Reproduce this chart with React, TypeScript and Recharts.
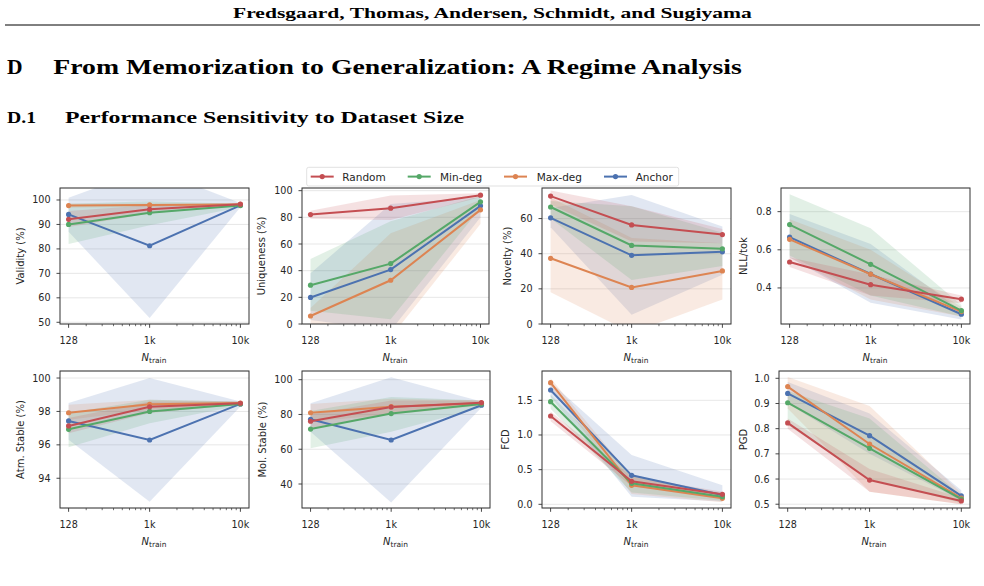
import React from 'react';
import { ComposedChart, Line, Area, XAxis, YAxis, CartesianGrid } from 'recharts';

// ---------- data ----------
const nTrain = [128, 1000, 10000];
const seriesNames = ['Random', 'Min-deg', 'Max-deg', 'Anchor'];
const seriesColors = ['#c44e52', '#55a868', '#dd8452', '#4c72b0'];
const xMajorTicks = [128, 1000, 10000];
const xMajorLabels = ['128', '1k', '10k'];
const xMinorTicks = [200, 300, 400, 500, 600, 700, 800, 900, 2000, 3000, 4000, 5000, 6000, 7000, 8000, 9000];

// rows: Random, Min-deg, Max-deg, Anchor ; columns: 128, 1k, 10k
const validityMean = [[92.1, 96.2, 98.3], [90.0, 94.8, 97.7], [97.7, 98.0, 98.2], [94.1, 81.3, 97.8]];
const validityLow = [[89.0, 94.5, 97.8], [82.0, 89.7, 97.0], [96.8, 97.2, 97.8], [87.0, 51.8, 97.0]];
const validityHigh = [[95.5, 97.8, 98.8], [98.5, 99.5, 98.5], [98.6, 98.6, 98.6], [100.9, 113.0, 98.8]];
const validityTicks = [50, 60, 70, 80, 90, 100];

const uniquenessMean = [[82.1, 86.9, 96.6], [29.1, 45.3, 91.6], [6.0, 32.8, 85.6], [19.9, 40.8, 88.6]];
const uniquenessLow = [[79, 78, 95], [10, 3.5, 87], [0, -10, 75], [3, -5, 80]];
const uniquenessHigh = [[85, 96.3, 98], [48.8, 77, 96], [12, 68, 93], [38, 90, 95]];
const uniquenessTicks = [0, 20, 40, 60, 80, 100];

const noveltyMean = [[72.8, 56.4, 50.9], [66.6, 44.7, 42.8], [37.4, 20.8, 30.2], [60.4, 39.1, 41.1]];
const noveltyLow = [[68, 47, 46], [60, 25, 33], [18, -5, 14], [55, 5.3, 28]];
const noveltyHigh = [[76, 67, 54], [70, 67, 52], [72, 49, 46], [66, 73.4, 55.5]];
const noveltyTicks = [0, 20, 40, 60];

const nllMean = [[0.536, 0.417, 0.341], [0.732, 0.524, 0.281], [0.655, 0.472, 0.276], [0.666, 0.473, 0.262]];
const nllLow = [[0.51, 0.36, 0.32], [0.57, 0.36, 0.25], [0.56, 0.34, 0.25], [0.56, 0.323, 0.235]];
const nllHigh = [[0.56, 0.47, 0.36], [0.891, 0.713, 0.31], [0.76, 0.6, 0.3], [0.788, 0.63, 0.28]];
const nllTicks = [0.4, 0.6, 0.8];

const atmMean = [[97.13, 98.28, 98.49], [96.93, 98.0, 98.45], [97.92, 98.43, 98.5], [97.43, 96.29, 98.45]];
const atmLow = [[96.7, 97.9, 98.4], [95.85, 97.3, 98.35], [97.5, 98.1, 98.4], [96.3, 92.6, 98.3]];
const atmHigh = [[97.6, 98.6, 98.6], [97.9, 98.7, 98.6], [98.4, 98.7, 98.6], [98.5, 100.0, 98.6]];
const atmTicks = [94, 96, 98, 100];

const molMean = [[76.1, 84.3, 86.8], [71.6, 80.5, 86.0], [81.0, 84.5, 86.5], [77.2, 65.3, 85.3]];
const molLow = [[72, 80.5, 85.5], [60.5, 70, 84], [76, 80, 85], [70, 29.3, 84]];
const molHigh = [[80, 88, 88], [82, 90, 88], [86, 89, 88], [86.4, 101.4, 87.5]];
const molTicks = [40, 60, 80, 100];

const fcdMean = [[1.274, 0.332, 0.144], [1.48, 0.303, 0.11], [1.755, 0.274, 0.087], [1.649, 0.418, 0.134]];
const fcdLow = [[1.2, 0.26, 0.1], [1.38, 0.17, 0.05], [1.69, 0.15, 0.03], [1.55, 0.11, 0.04]];
const fcdHigh = [[1.34, 0.4, 0.18], [1.58, 0.42, 0.16], [1.82, 0.4, 0.13], [1.76, 0.711, 0.274]];
const fcdTicks = [0, 0.5, 1.0, 1.5];

const pgdMean = [[0.823, 0.596, 0.513], [0.903, 0.722, 0.52], [0.967, 0.739, 0.524], [0.94, 0.772, 0.533]];
const pgdLow = [[0.8, 0.55, 0.5], [0.815, 0.6, 0.505], [0.88, 0.55, 0.5], [0.9, 0.7, 0.515]];
const pgdHigh = [[0.84, 0.64, 0.525], [0.95, 0.84, 0.535], [1.005, 0.89, 0.545], [0.985, 0.86, 0.555]];
const pgdTicks = [0.5, 0.6, 0.7, 0.8, 0.9, 1.0];

// ---------- layout ----------
const FONT = 'DejaVu Sans, sans-serif';
const TXT = '#262626';
const X_DOMAIN: [number, number] = [102.9, 12440];
const DRAW_ORDER = [3, 2, 1, 0];

type Panel = {
  label: string; mean: number[][]; low: number[][]; high: number[][];
  ticks: number[]; dec: number; domain: [number, number];
  left: number; top: number; w: number; h: number; labelX: number;
};

const panels: Panel[] = [
  { label: 'Validity (%)', mean: validityMean, low: validityLow, high: validityHigh, ticks: validityTicks, dec: 0, domain: [49.3, 104.9], left: 60, top: 188, w: 189, h: 136, labelX: 20 },
  { label: 'Uniqueness (%)', mean: uniquenessMean, low: uniquenessLow, high: uniquenessHigh, ticks: uniquenessTicks, dec: 0, domain: [0, 102], left: 302, top: 188, w: 187, h: 136, labelX: 261 },
  { label: 'Novelty (%)', mean: noveltyMean, low: noveltyLow, high: noveltyHigh, ticks: noveltyTicks, dec: 0, domain: [0, 77.4], left: 542, top: 188, w: 189, h: 136, labelX: 507 },
  { label: 'NLL/tok', mean: nllMean, low: nllLow, high: nllHigh, ticks: nllTicks, dec: 1, domain: [0.211, 0.924], left: 781, top: 188, w: 189, h: 136, labelX: 743 },
  { label: 'Atm. Stable (%)', mean: atmMean, low: atmLow, high: atmHigh, ticks: atmTicks, dec: 0, domain: [92.22, 100.42], left: 60, top: 371, w: 189, h: 137, labelX: 20 },
  { label: 'Mol. Stable (%)', mean: molMean, low: molLow, high: molHigh, ticks: molTicks, dec: 0, domain: [26.2, 105], left: 302, top: 371, w: 188, h: 137, labelX: 262 },
  { label: 'FCD', mean: fcdMean, low: fcdLow, high: fcdHigh, ticks: fcdTicks, dec: 1, domain: [-0.053, 1.923], left: 542, top: 371, w: 189, h: 137, labelX: 505 },
  { label: 'PGD', mean: pgdMean, low: pgdLow, high: pgdHigh, ticks: pgdTicks, dec: 1, domain: [0.485, 1.029], left: 779, top: 371, w: 191, h: 137, labelX: 743 },
];

const M_TOP = 10, M_RIGHT = 10, Y_W = 60, X_H = 35;

function buildRows(p: Panel) {
  return nTrain.map((n, i) => {
    const o: any = { n };
    seriesNames.forEach((_, k) => {
      o['m' + k] = p.mean[k][i];
      o['b' + k] = [p.low[k][i], p.high[k][i]];
    });
    return o;
  });
}

function PanelChart({ p }: { p: Panel }) {
  const W = p.w + Y_W + M_RIGHT;
  const H = p.h + M_TOP + X_H;
  const plotLeft = Y_W;
  const plotBottom = M_TOP + p.h;
  const rows = buildRows(p);

  const yTick = (props: any) => {
    const { y, payload } = props;
    return (
      <g>
        <line x1={plotLeft - 3.5} x2={plotLeft} y1={y} y2={y} stroke="#333" strokeWidth={0.9} />
        <text x={plotLeft - 9.5} y={y} textAnchor="end" dominantBaseline="central" fontSize={9.6} fill={TXT} fontFamily={FONT}>
          {Number(payload.value).toFixed(p.dec)}
        </text>
      </g>
    );
  };

  const xTick = (props: any) => {
    const { x, payload } = props;
    const idx = xMajorTicks.indexOf(payload.value);
    const major = idx >= 0;
    return (
      <g>
        <line x1={x} x2={x} y1={plotBottom} y2={plotBottom + (major ? 3.8 : 2.2)} stroke="#333" strokeWidth={major ? 0.9 : 0.7} />
        {major && (
          <text x={x} y={plotBottom + 19.5} textAnchor="middle" fontSize={9.6} fill={TXT} fontFamily={FONT}>
            {xMajorLabels[idx]}
          </text>
        )}
      </g>
    );
  };

  return (
    <div style={{ position: 'absolute', left: p.left - Y_W, top: p.top - M_TOP, width: W, height: H }}>
      <ComposedChart width={W} height={H} data={rows} margin={{ top: M_TOP, right: M_RIGHT, left: 0, bottom: 0 }}>
        <CartesianGrid vertical={false} stroke="#e4e4e4" strokeWidth={0.9} />
        <XAxis
          dataKey="n" type="number" scale="log" domain={X_DOMAIN} allowDataOverflow
          ticks={[...xMajorTicks, ...xMinorTicks]} interval={0}
          tick={xTick} tickLine={false} axisLine={false} height={X_H}
        />
        <YAxis
          type="number" domain={p.domain} allowDataOverflow ticks={p.ticks} interval={0}
          tick={yTick} tickLine={false} axisLine={false} width={Y_W}
        />
        {DRAW_ORDER.map((k) => (
          <Area
            key={'a' + k} type="linear" dataKey={'b' + k} stroke="none" fill={seriesColors[k]}
            fillOpacity={0.17} isAnimationActive={false} dot={false} activeDot={false}
          />
        ))}
        {DRAW_ORDER.map((k) => (
          <Line
            key={'l' + k} type="linear" dataKey={'m' + k} stroke={seriesColors[k]} strokeWidth={2}
            dot={{ r: 2.6, fill: seriesColors[k], stroke: seriesColors[k], strokeWidth: 0 }}
            activeDot={false} isAnimationActive={false}
          />
        ))}
      </ComposedChart>
    </div>
  );
}

const legendItems = [
  { lineX: 310.7, textX: 342.3 },
  { lineX: 407.7, textX: 440 },
  { lineX: 504, textX: 536.7 },
  { lineX: 604, textX: 635.7 },
];

export default function App() {
  return (
    <div style={{ position: 'absolute', left: 0, top: 0, width: 984, height: 586, background: '#fff', overflow: 'hidden' }}>
      {panels.map((p, i) => <PanelChart key={i} p={p} />)}
      <svg width={984} height={586} style={{ position: 'absolute', left: 0, top: 0, pointerEvents: 'none' }}>
        {/* page header */}
        <text x={233} y={18.3} fontFamily="Liberation Serif, serif" fontWeight="bold" fontSize={15}
          textLength={518.7} lengthAdjust="spacingAndGlyphs" fill="#000">
          Fredsgaard, Thomas, Andersen, Schmidt, and Sugiyama
        </text>
        <line x1={5} x2={980} y1={25} y2={25} stroke="#000" strokeWidth={1} />
        <text x={7} y={74} fontFamily="Liberation Serif, serif" fontWeight="bold" fontSize={21.5} fill="#000">D</text>
        <text x={53.3} y={74} fontFamily="Liberation Serif, serif" fontWeight="bold" fontSize={21.5}
          textLength={688.4} lengthAdjust="spacingAndGlyphs" fill="#000">
          From Memorization to Generalization: A Regime Analysis
        </text>
        <text x={7} y={123.3} fontFamily="Liberation Serif, serif" fontWeight="bold" fontSize={17.5}
          textLength={29} lengthAdjust="spacingAndGlyphs" fill="#000">D.1</text>
        <text x={65} y={123.3} fontFamily="Liberation Serif, serif" fontWeight="bold" fontSize={17.5}
          textLength={399} lengthAdjust="spacingAndGlyphs" fill="#000">
          Performance Sensitivity to Dataset Size
        </text>

        {/* spines and axis titles */}
        {panels.map((p, i) => (
          <g key={i}>
            <rect x={p.left} y={p.top} width={p.w} height={p.h} fill="none" stroke="#333" strokeWidth={1} />
            <text x={p.labelX} y={p.top + p.h / 2} transform={`rotate(-90 ${p.labelX} ${p.top + p.h / 2})`}
              textAnchor="middle" dominantBaseline="central" fontSize={10} fill={TXT} fontFamily={FONT}>
              {p.label}
            </text>
            <text x={p.left + p.w / 2 - 13} y={p.top + p.h + 36.5} fontSize={10} fill={TXT} fontFamily={FONT}>
              <tspan fontStyle="italic">N</tspan>
              <tspan fontSize={7.5} dy={2}>train</tspan>
            </text>
          </g>
        ))}

        {/* legend */}
        <rect x={306.7} y={167.3} width={372} height={18.7} rx={2} fill="#fff" fillOpacity={0.85} stroke="#d9d9d9" strokeWidth={0.8} />
        {legendItems.map((it, k) => (
          <g key={k}>
            <line x1={it.lineX} x2={it.lineX + 23} y1={176.6} y2={176.6} stroke={seriesColors[k]} strokeWidth={2} />
            <circle cx={it.lineX + 11.5} cy={176.6} r={2.6} fill={seriesColors[k]} />
            <text x={it.textX} y={176.6} dominantBaseline="central" fontSize={10.5} fill={TXT} fontFamily={FONT}>
              {seriesNames[k]}
            </text>
          </g>
        ))}
      </svg>
    </div>
  );
}
